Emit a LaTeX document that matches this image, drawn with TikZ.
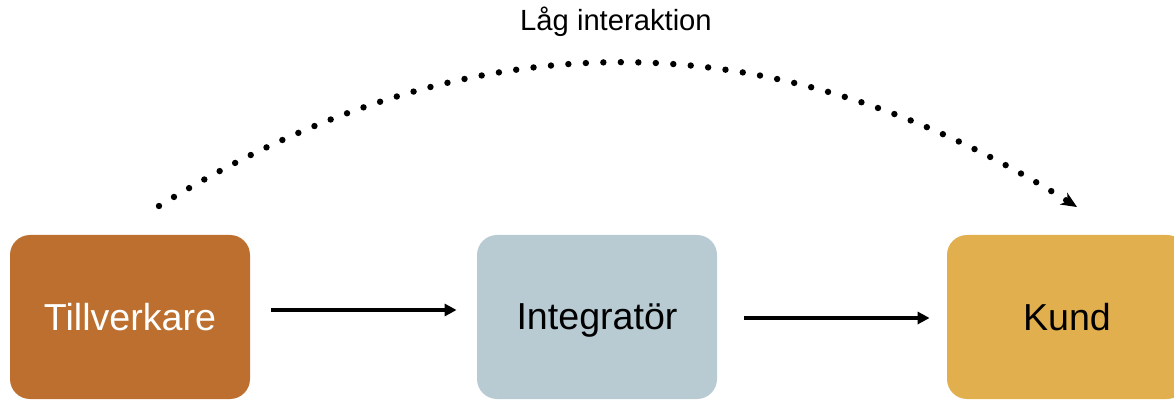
\documentclass[tikz,border=0pt]{standalone}
\usepackage{fontspec}
\setmainfont{Liberation Sans}
\usetikzlibrary{arrows.meta}

\definecolor{rust}{HTML}{BC6F2E}
\definecolor{steel}{HTML}{B8CBD3}
\definecolor{mustard}{HTML}{E2AF4E}

\begin{document}
\begin{tikzpicture}[x=0.5pt, y=-0.5pt,
    box/.style={rounded corners=10pt, minimum width=120pt, minimum height=82pt,
      inner sep=0pt, text depth=0pt, font=\fontsize{18.8}{22}\selectfont},
    flow/.style={line width=2pt, -{Triangle[length=6pt,width=6pt]}},
    lowlink/.style={line width=3.2pt, line cap=round, dash pattern=on 0pt off 8.75pt,
      -{Stealth[length=8pt,width=7pt,line width=0.5pt]}}]

      % picture frame (the boxes run past the lower and right edges)
      \clip (0,0) rectangle (1174,401);

      % The three parties
      \node[box, fill=rust, text=white] (till)  at (130,317)  {Tillverkare};
      \node[box, fill=steel]            (integ) at (597,317)  {Integratör};
      \node[box, fill=mustard]          (kund)  at (1067,317) {Kund};

      % Flow through the integrator
      \draw[flow, shorten <=10.5pt, shorten >=10pt]
        ([yshift=3.5pt]till.east) -- ([yshift=3.5pt]integ.west);
      \draw[flow, shorten <=13.5pt, shorten >=8.5pt]
        ([yshift=-0.5pt]integ.east) -- ([yshift=-0.5pt]kund.west);

      % Dotted arc straight from manufacturer to customer
      \coordinate (arcstart) at (159,206);
      \coordinate (arcend) at (1077,207);
      \draw[lowlink] (arcstart) .. controls (470,15) and (770,15) .. (arcend);

      % Label above the arc
      \node[font=\fontsize{14.6}{17}\selectfont] (lowlabel) at (616,22) {Låg interaktion};

    \end{tikzpicture}
\end{document}
